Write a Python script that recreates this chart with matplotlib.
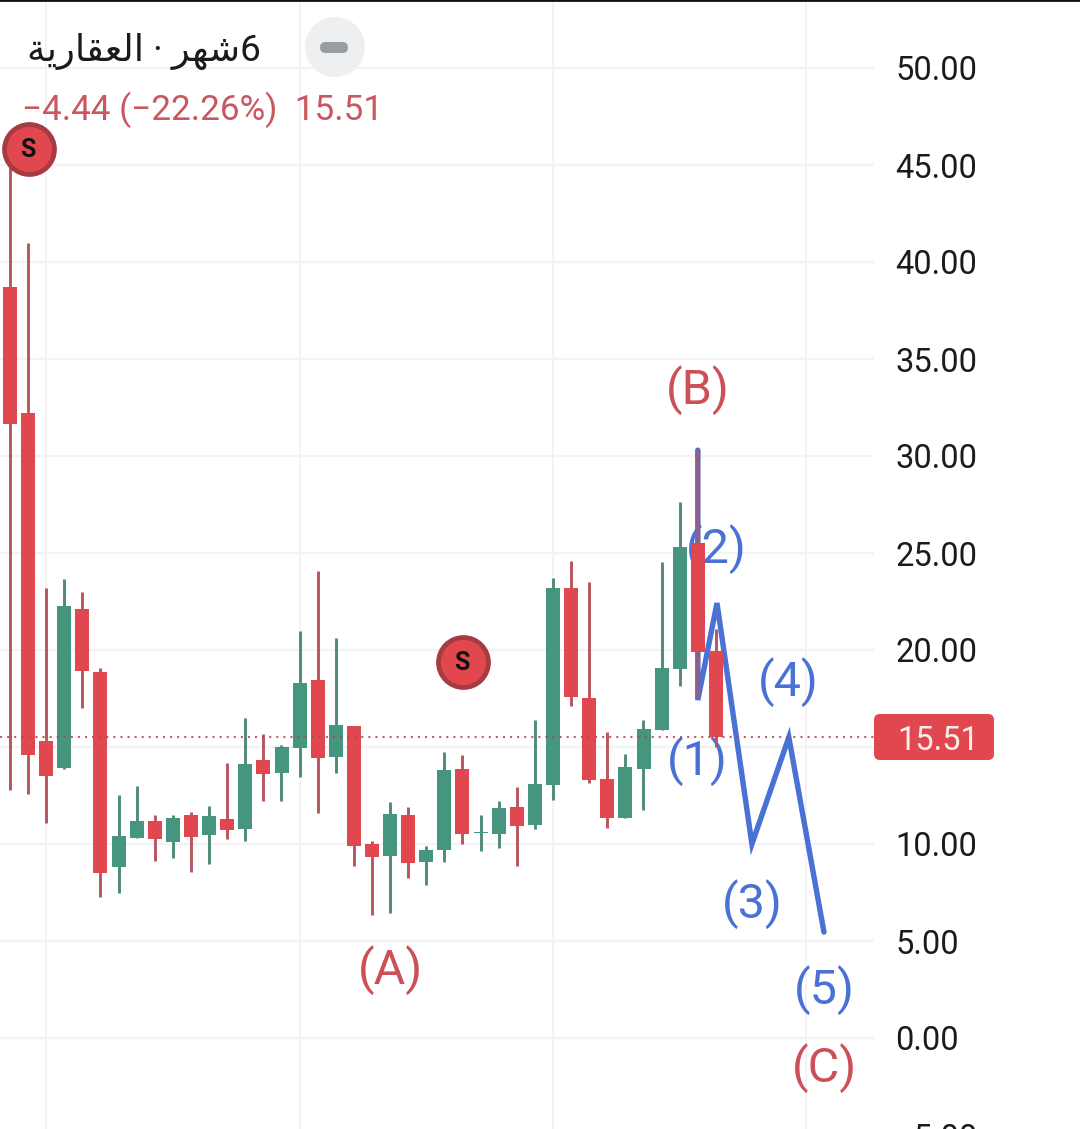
import matplotlib
matplotlib.use("Agg")
import matplotlib.pyplot as plt
from matplotlib.patches import FancyBboxPatch, Circle
from matplotlib.transforms import IdentityTransform

# ---------- data ----------
opens  = [38.71, 32.20, 15.31, 13.93, 22.11, 18.87, 8.83, 10.33, 11.19, 10.12,
          11.49, 10.48, 11.29, 10.79, 14.33, 13.68, 14.96, 18.45, 14.50, 16.10,
          10.00, 9.40, 11.49, 9.09, 9.71, 13.87, 10.55, 10.53, 11.90, 10.99,
          13.06, 23.20, 17.53, 13.35, 11.36, 13.88, 15.89, 19.04, 25.52, 19.95]
closes = [31.65, 14.60, 13.52, 22.27, 18.93, 8.52, 10.41, 11.19, 10.27, 11.34,
          10.38, 11.44, 10.74, 14.12, 13.62, 15.02, 18.30, 14.45, 16.13, 9.91,
          9.35, 11.55, 9.04, 9.69, 13.81, 10.53, 10.63, 11.86, 10.94, 13.09,
          23.20, 17.59, 13.31, 11.36, 13.97, 15.93, 19.07, 25.31, 19.91, 15.51]
highs  = [45.80, 41.00, 23.20, 23.66, 22.99, 19.05, 12.53, 12.99, 11.49, 11.49,
          11.65, 11.96, 14.18, 16.49, 15.67, 15.10, 20.98, 24.07, 20.62, 16.10,
          10.15, 12.16, 11.90, 9.90, 14.74, 14.59, 11.49, 12.22, 12.94, 16.39,
          23.71, 24.59, 23.51, 15.77, 14.64, 16.39, 24.54, 27.63, 30.30, 21.08]
lows   = [12.78, 12.58, 11.10, 13.88, 17.03, 7.28, 7.46, 10.33, 9.14, 9.29,
          8.57, 8.98, 10.27, 10.17, 12.22, 12.22, 13.47, 11.61, 13.68, 8.88,
          6.32, 6.43, 8.26, 7.90, 9.09, 10.02, 9.65, 9.81, 8.88, 10.79,
          12.28, 17.13, 13.16, 10.84, 11.36, 11.75, 15.89, 18.14, 17.60, 15.00]
last_price = 15.51
y_ticks = [-5, 0, 5, 10, 15, 20, 25, 30, 35, 40, 45, 50]
x_grid = [2, 16, 30, 44]
wave_x = [38, 38, 39.06, 40.99, 43.03, 44.97]
wave_y = [30.30, 17.42, 22.42, 10.0, 15.5, 5.46]
sell_x = [1.05, 25.03]
sell_y = [45.82, 19.38]
red_labels = [("(A)", 21.03, 3.5), ("(B)", 38.0, 33.4), ("(C)", 45.0, -1.55)]
blue_labels = [("(1)", 38.0, 14.25), ("(2)", 39.05, 25.2), ("(3)", 41.0, 6.9),
               ("(4)", 43.0, 18.35), ("(5)", 45.0, 2.45)]
title_visual = "\uFE94\uFEF3\uFEAD\uFE8E\uFED8\uFECC\uFEDF\uFE8D · \uFEAE\uFEEC\uFEB76"
change_text = "−4.44 (−22.26%)  15.51"

# ---------- styles ----------
W, H = 1080, 1129
RED, GREEN = "#e0474f", "#46957f"
RED_W, GREEN_W = "#b8555f", "#4f8a7c"
BLUE, LABEL_RED = "#4a72d4", "#cc5058"
GRID = "#f3f3f5"
FONT = ["Roboto", "DejaVu Sans"]
plt.rcParams["font.family"] = FONT

fig = plt.figure(figsize=(W / 100, H / 100), dpi=100, facecolor="white")
bottom_px = 1160
ax = fig.add_axes([0, (H - bottom_px) / H, 1, bottom_px / H])
PX_PER_UNIT, PX_ZERO = 19.4, 1038
PX_PER_BAR, PX_FIRST = 18.1, 10
ax.set_xlim(-PX_FIRST / PX_PER_BAR, (W - PX_FIRST) / PX_PER_BAR)
ax.set_ylim((PX_ZERO - bottom_px) / PX_PER_UNIT, PX_ZERO / PX_PER_UNIT)
axis_right = (874 - PX_FIRST) / PX_PER_BAR

for s in ["left", "right", "bottom"]:
    ax.spines[s].set_visible(False)
ax.spines["top"].set_color("#111111")
ax.spines["top"].set_linewidth(2)

ax.set_xticks([])
ax.set_yticks(y_ticks)
# the 15.00 label is covered by the last-price tag in the reference
ax.set_yticklabels(["−5.00" if v < 0 else ("" if v == 15 else f"{v:.2f}") for v in y_ticks],
                   ha="left", fontsize=23.5, color="#1b1b1f")
ax.tick_params(axis="y", left=False, pad=-900 * 0.72)

ax.hlines([v for v in y_ticks if v >= 0], ax.get_xlim()[0], axis_right,
          color=GRID, lw=1.6, zorder=1)
ax.vlines(x_grid, *ax.get_ylim(), color=GRID, lw=1.4, zorder=1)

# wave drawing under the candles
ax.plot(wave_x, wave_y, color=BLUE, lw=3.9, solid_capstyle="round",
        solid_joinstyle="miter", zorder=2)
for txt, x, y in blue_labels:
    ax.text(x, y, txt, color=BLUE, fontsize=35, ha="center", va="center", zorder=2)
for txt, x, y in red_labels:
    ax.text(x, y, txt, color=LABEL_RED, fontsize=35, ha="center", va="center", zorder=2)

# candles
for i, (o, c, h, l) in enumerate(zip(opens, closes, highs, lows)):
    up = c >= o
    ax.vlines(i, l, h, color=GREEN_W if up else RED_W,
              lw=3.2 if i == 38 else 2.1,
              alpha=0.6 if i == 38 else 1, zorder=3)
    ax.bar(i, abs(c - o), bottom=min(o, c), width=14 / PX_PER_BAR,
           color=GREEN if up else RED, linewidth=0, zorder=4)

# last price
ax.hlines(last_price, ax.get_xlim()[0], axis_right, color="#b0474f", lw=1.5,
          linestyles=(0, (1, 2.4)), alpha=0.85, zorder=5)
r = 6
fig.add_artist(FancyBboxPatch((874 + r, H - 760 + r), 120 - 2 * r, 46 - 2 * r,
                              boxstyle=f"round,pad={r},rounding_size={r}",
                              fc=RED, ec="none", transform=IdentityTransform()))
fig.text(897 / W, 1 - 737 / H, f"{last_price:.2f}", color="#fdeeee", fontsize=23.5,
         ha="left", va="center_baseline")

# sell markers
ax.plot(sell_x, sell_y, "o", ms=36, mfc=RED, mec="#a83a42", mew=3.4, ls="none", zorder=6)
for x, y in zip(sell_x, sell_y):
    ax.annotate("S", (x, y), xytext=(-1, 1), textcoords="offset points",
                color="#111111", fontsize=18, fontweight="bold",
                ha="center", va="center_baseline", zorder=7)

# header
fig.text(27 / W, 1 - 47 / H, title_visual, color="#1b1b1f", fontsize=26.6,
         ha="left", va="center_baseline")
fig.text(22 / W, 1 - 106 / H, change_text, color="#c9575f", fontsize=25.3,
         ha="left", va="center_baseline")
fig.add_artist(Circle((335, H - 47), 30, fc="#eeeff1", ec="none", transform=IdentityTransform()))
fig.add_artist(FancyBboxPatch((320, H - 53), 28, 11, boxstyle="round,pad=0,rounding_size=5.5",
                              fc="#9a9ca3", ec="none", transform=IdentityTransform()))

fig.savefig("out.png", dpi=100, facecolor="white")
